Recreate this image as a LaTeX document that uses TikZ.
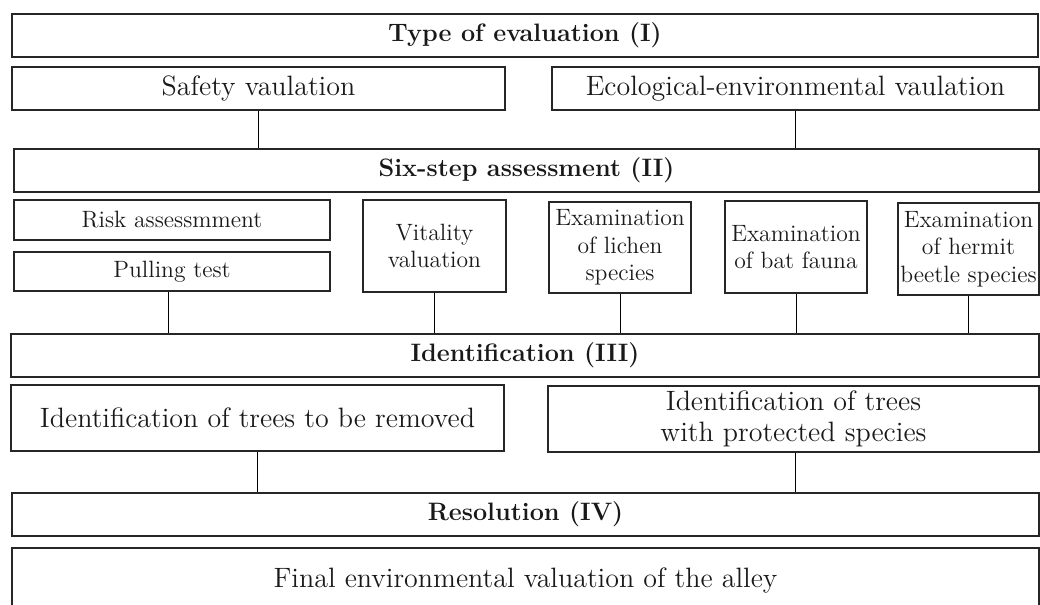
\documentclass[tikz,border=0pt]{standalone}
\usepackage{fontspec}
\usetikzlibrary{fit}
\begin{document}
\begin{tikzpicture}[x=0.5pt,y=-0.5pt,
  box/.style={draw=black!85, line width=0.65pt, inner sep=0pt},
  txt/.style={inner sep=0pt, align=center, text=black!90},
  big/.style={txt, font=\fontsize{14}{15.5}\selectfont},
  small/.style={txt, font=\fontsize{11.8}{13.75}\selectfont},
  head/.style={txt, font=\fontsize{12.6}{14}\selectfont\bfseries},
  conn/.style={draw=black, line width=0.5pt}]
\useasboundingbox (0,0) rectangle (1040,605);
\clip (0,0) rectangle (1040,605);
\node[box, fit={(12,14) (1038,57)}] (top) {};
\node[head] (topT) at (top.center) {Type of evaluation (I)};
\node[box, fit={(12,67) (505,110)}] (safety) {};
\node[big] (safetyT) at (safety.center) {Safety vaulation};
\node[box, fit={(552,67) (1039,110)}] (eco) {};
\node[big] (ecoT) at (eco.center) {Ecological-environmental vaulation};
\node[box, fit={(14,149) (1039,192)}] (six) {};
\node[head] (sixT) at (six.center) {Six-step assessment (II)};
\node[box, fit={(14,200) (330,240)}] (risk) {};
\node[small] (riskT) at (risk.center) {Risk assessmment};
\node[box, fit={(14,252) (330,291)}] (pull) {};
\node[small] (pullT) at (pull.center) {Pulling test};
\node[box, fit={(363,200) (506,292)}] (vital) {};
\node[small] (vitalT) at (vital.center) {Vitality\\valuation};
\node[box, fit={(549,202) (691,293)}] (lichen) {};
\node[small] (lichenT) at (lichen.center) {Examination\\of lichen\\species};
\node[box, fit={(725,201) (867,293)}] (bat) {};
\node[small] (batT) at (bat.center) {Examination\\of bat fauna};
\node[box, fit={(898,203) (1039,295)}] (hermit) {};
\node[small] (hermitT) at (hermit.center) {Examination\\of hermit\\beetle species};
\node[box, fit={(11,334) (1039,377)}] (ident) {};
\node[head] (identT) at (ident.center) {Identification (III)};
\node[box, fit={(11,385) (504,451)}] (removed) {};
\node[big] (removedT) at (removed.center) {Identification of trees to be removed};
\node[box, fit={(548,386) (1039,452)}] (protected) {};
\node[big] (protectedT) at (protected.center) {Identification of trees\\with protected species};
\node[box, fit={(12,493) (1039,536)}] (resol) {};
\node[head] (resolT) at (resol.center) {Resolution (IV)};
\node[box, fit={(12,548) (1039,612)}] (final) {};
\node[big] (finalT) at (final.center) {Final environmental valuation of the alley};
\draw[conn] (safety.south) -- (safety.south |- six.north);
\draw[conn] (eco.south) -- (eco.south |- six.north);
\draw[conn] ([xshift=-2pt]pull.south) -- ([xshift=-2pt]pull.south |- ident.north);
\draw[conn] (vital.south) -- (vital.south |- ident.north);
\draw[conn] (lichen.south) -- (lichen.south |- ident.north);
\draw[conn] (bat.south) -- (bat.south |- ident.north);
\draw[conn] (hermit.south) -- (hermit.south |- ident.north);
\draw[conn] (removed.south) -- (removed.south |- resol.north);
\draw[conn] ([xshift=1pt]protected.south) -- ([xshift=1pt]protected.south |- resol.north);
\end{tikzpicture}
\end{document}
